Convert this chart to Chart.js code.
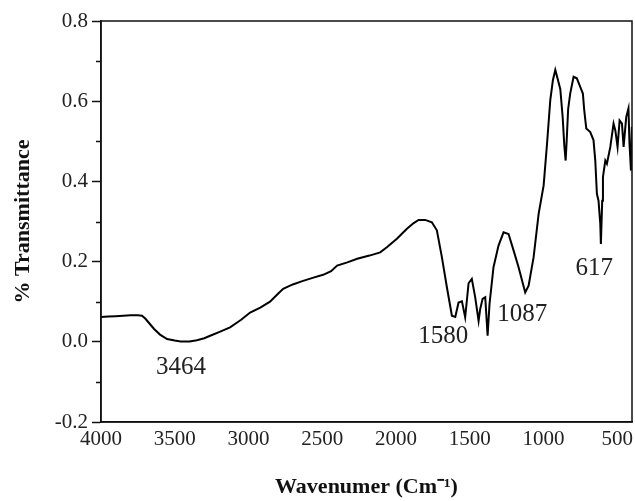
<!DOCTYPE html>
<html>
<head>
<meta charset="utf-8">
<script src="https://cdn.jsdelivr.net/npm/chart.js@4/dist/chart.umd.min.js"></script>
<style>
  body { margin: 0; background: #fff; }
</style>
</head>
<body>
<canvas id="ir-chart" width="635" height="501"></canvas>
<script>
// FTIR spectrum
var wavenumbers = [
    4000, 3950, 3900, 3850, 3800, 3750, 3722, 3700, 3670, 3640,
    3600, 3552, 3500, 3460, 3400, 3350, 3300, 3260, 3200, 3125,
    3050, 2989, 2920, 2854, 2800, 2765, 2700, 2630, 2560, 2494,
    2440, 2399, 2330, 2263, 2180, 2107, 2062, 1994, 1926, 1880,
    1847, 1802, 1757, 1723, 1689, 1655, 1621, 1598, 1576, 1553,
    1531, 1508, 1486, 1463, 1440, 1429, 1413, 1395, 1379, 1366,
    1339, 1305, 1271, 1237, 1203, 1169, 1124, 1101, 1067, 1033,
    999, 976, 954, 936, 920, 905, 886, 870, 859, 850,
    843, 833, 819, 796, 774, 751, 733, 724, 710, 683,
    661, 649, 638, 627, 615, 611, 602, 597, 581, 570,
    547, 525, 513, 498, 484, 468, 457, 439, 424, 417,
    407, 401
];
var transmittance = [
    0.062, 0.063, 0.064, 0.065, 0.066, 0.066, 0.065, 0.058, 0.045, 0.032,
    0.018, 0.007, 0.003, 0.001, 0.001, 0.004, 0.009, 0.015, 0.024, 0.036,
    0.055, 0.073, 0.085, 0.100, 0.120, 0.132, 0.143, 0.152, 0.160, 0.167,
    0.176, 0.190, 0.198, 0.207, 0.215, 0.223, 0.236, 0.257, 0.282, 0.296,
    0.304, 0.304, 0.298, 0.278, 0.211, 0.136, 0.065, 0.062, 0.098, 0.101,
    0.061, 0.146, 0.157, 0.111, 0.052, 0.082, 0.107, 0.111, 0.015, 0.094,
    0.186, 0.240, 0.273, 0.269, 0.228, 0.186, 0.123, 0.140, 0.211, 0.319,
    0.390, 0.494, 0.603, 0.653, 0.678, 0.657, 0.630, 0.560, 0.490, 0.452,
    0.500, 0.580, 0.619, 0.661, 0.657, 0.636, 0.619, 0.578, 0.532, 0.523,
    0.503, 0.452, 0.369, 0.352, 0.294, 0.244, 0.352, 0.411, 0.452, 0.444,
    0.486, 0.544, 0.527, 0.486, 0.552, 0.544, 0.486, 0.561, 0.582, 0.494,
    0.427, 0.536
];

var xTickValues = [4000, 3500, 3000, 2500, 2000, 1500, 1000, 500];
var yTickValues = [-0.2, 0.0, 0.2, 0.4, 0.6, 0.8];
var yMinorTicks = [-0.1, 0.1, 0.3, 0.5, 0.7];

// peak labels: text, wavenumber, transmittance where the text sits
var peakLabels = ["3464", "1580", "1087", "617"];
var peakLabelX = [3457, 1680, 1144, 656];
var peakLabelY = [-0.065, 0.0125, 0.0675, 0.1825];

var serif = "'Liberation Serif', 'Times New Roman', serif";

// box frame, minor y ticks and peak labels
var extras = {
    id: "extras",
    afterDraw: function (chart) {
        var ctx = chart.ctx;
        var area = chart.chartArea;
        var xs = chart.scales.x;
        var ys = chart.scales.y;
        ctx.save();
        ctx.strokeStyle = "#111";
        ctx.lineWidth = 1.5;
        ctx.strokeRect(area.left, area.top, area.right - area.left, area.bottom - area.top);

        ctx.beginPath();
        yMinorTicks.forEach(function (v) {
            var py = Math.round(ys.getPixelForValue(v)) + 0.5;
            ctx.moveTo(area.left - 5, py);
            ctx.lineTo(area.left, py);
        });
        ctx.stroke();

        ctx.fillStyle = "#222";
        ctx.font = "25px " + serif;
        ctx.textAlign = "center";
        ctx.textBaseline = "middle";
        for (var i = 0; i < peakLabels.length; i++) {
            ctx.fillText(peakLabels[i], xs.getPixelForValue(peakLabelX[i]), ys.getPixelForValue(peakLabelY[i]));
        }
        ctx.restore();
    }
};

function renderChart() {
    var points = wavenumbers.map(function (w, i) {
        return { x: w, y: transmittance[i] };
    });

    new Chart(document.getElementById("ir-chart"), {
        type: "line",
        data: {
            datasets: [
                {
                    data: points,
                    borderColor: "#000",
                    borderWidth: 2,
                    pointRadius: 0,
                    fill: false,
                    tension: 0,
                },
            ],
        },
        options: {
            responsive: false,
            animation: false,
            devicePixelRatio: 1,
            layout: {
                padding: { left: 0, right: 3, top: 21, bottom: 0 },
            },
            plugins: {
                legend: { display: false },
                tooltip: { enabled: false },
            },
            scales: {
                x: {
                    type: "linear",
                    reverse: true,
                    min: 400,
                    max: 4000,
                    afterBuildTicks: function (scale) {
                        scale.ticks = xTickValues.map(function (v) { return { value: v }; });
                    },
                    afterFit: function (scale) {
                        scale.height = 79;
                        scale.paddingLeft = 0;
                        scale.paddingRight = 0;
                    },
                    ticks: {
                        color: "#222",
                        font: { family: serif, size: 21 },
                        maxRotation: 0,
                        autoSkip: false,
                        padding: 5,
                        callback: function (v) { return String(v); },
                    },
                    grid: { drawOnChartArea: false, drawTicks: false },
                    border: { color: "#111", width: 1.5 },
                    title: {
                        display: true,
                        text: "Wavenumer (Cm\u207B\u00B9)",
                        color: "#111",
                        font: { family: serif, size: 22, weight: "bold" },
                        padding: { top: 0, bottom: 0 },
                    },
                },
                y: {
                    min: -0.2,
                    max: 0.8,
                    afterBuildTicks: function (scale) {
                        scale.ticks = yTickValues.map(function (v) { return { value: v }; });
                    },
                    afterFit: function (scale) {
                        scale.width = 101;
                    },
                    ticks: {
                        color: "#222",
                        font: { family: serif, size: 21 },
                        padding: 4,
                        callback: function (v) { return Number(v).toFixed(1); },
                    },
                    grid: { drawOnChartArea: false, tickLength: 9, tickColor: "#111", tickWidth: 1.5 },
                    border: { color: "#111", width: 1.5 },
                    title: {
                        display: true,
                        text: "% Transmittance",
                        color: "#111",
                        font: { family: serif, size: 22, weight: "bold" },
                        padding: { top: 10, bottom: 0 },
                    },
                },
            },
        },
        plugins: [extras],
    });
}

renderChart();
</script>
</body>
</html>
